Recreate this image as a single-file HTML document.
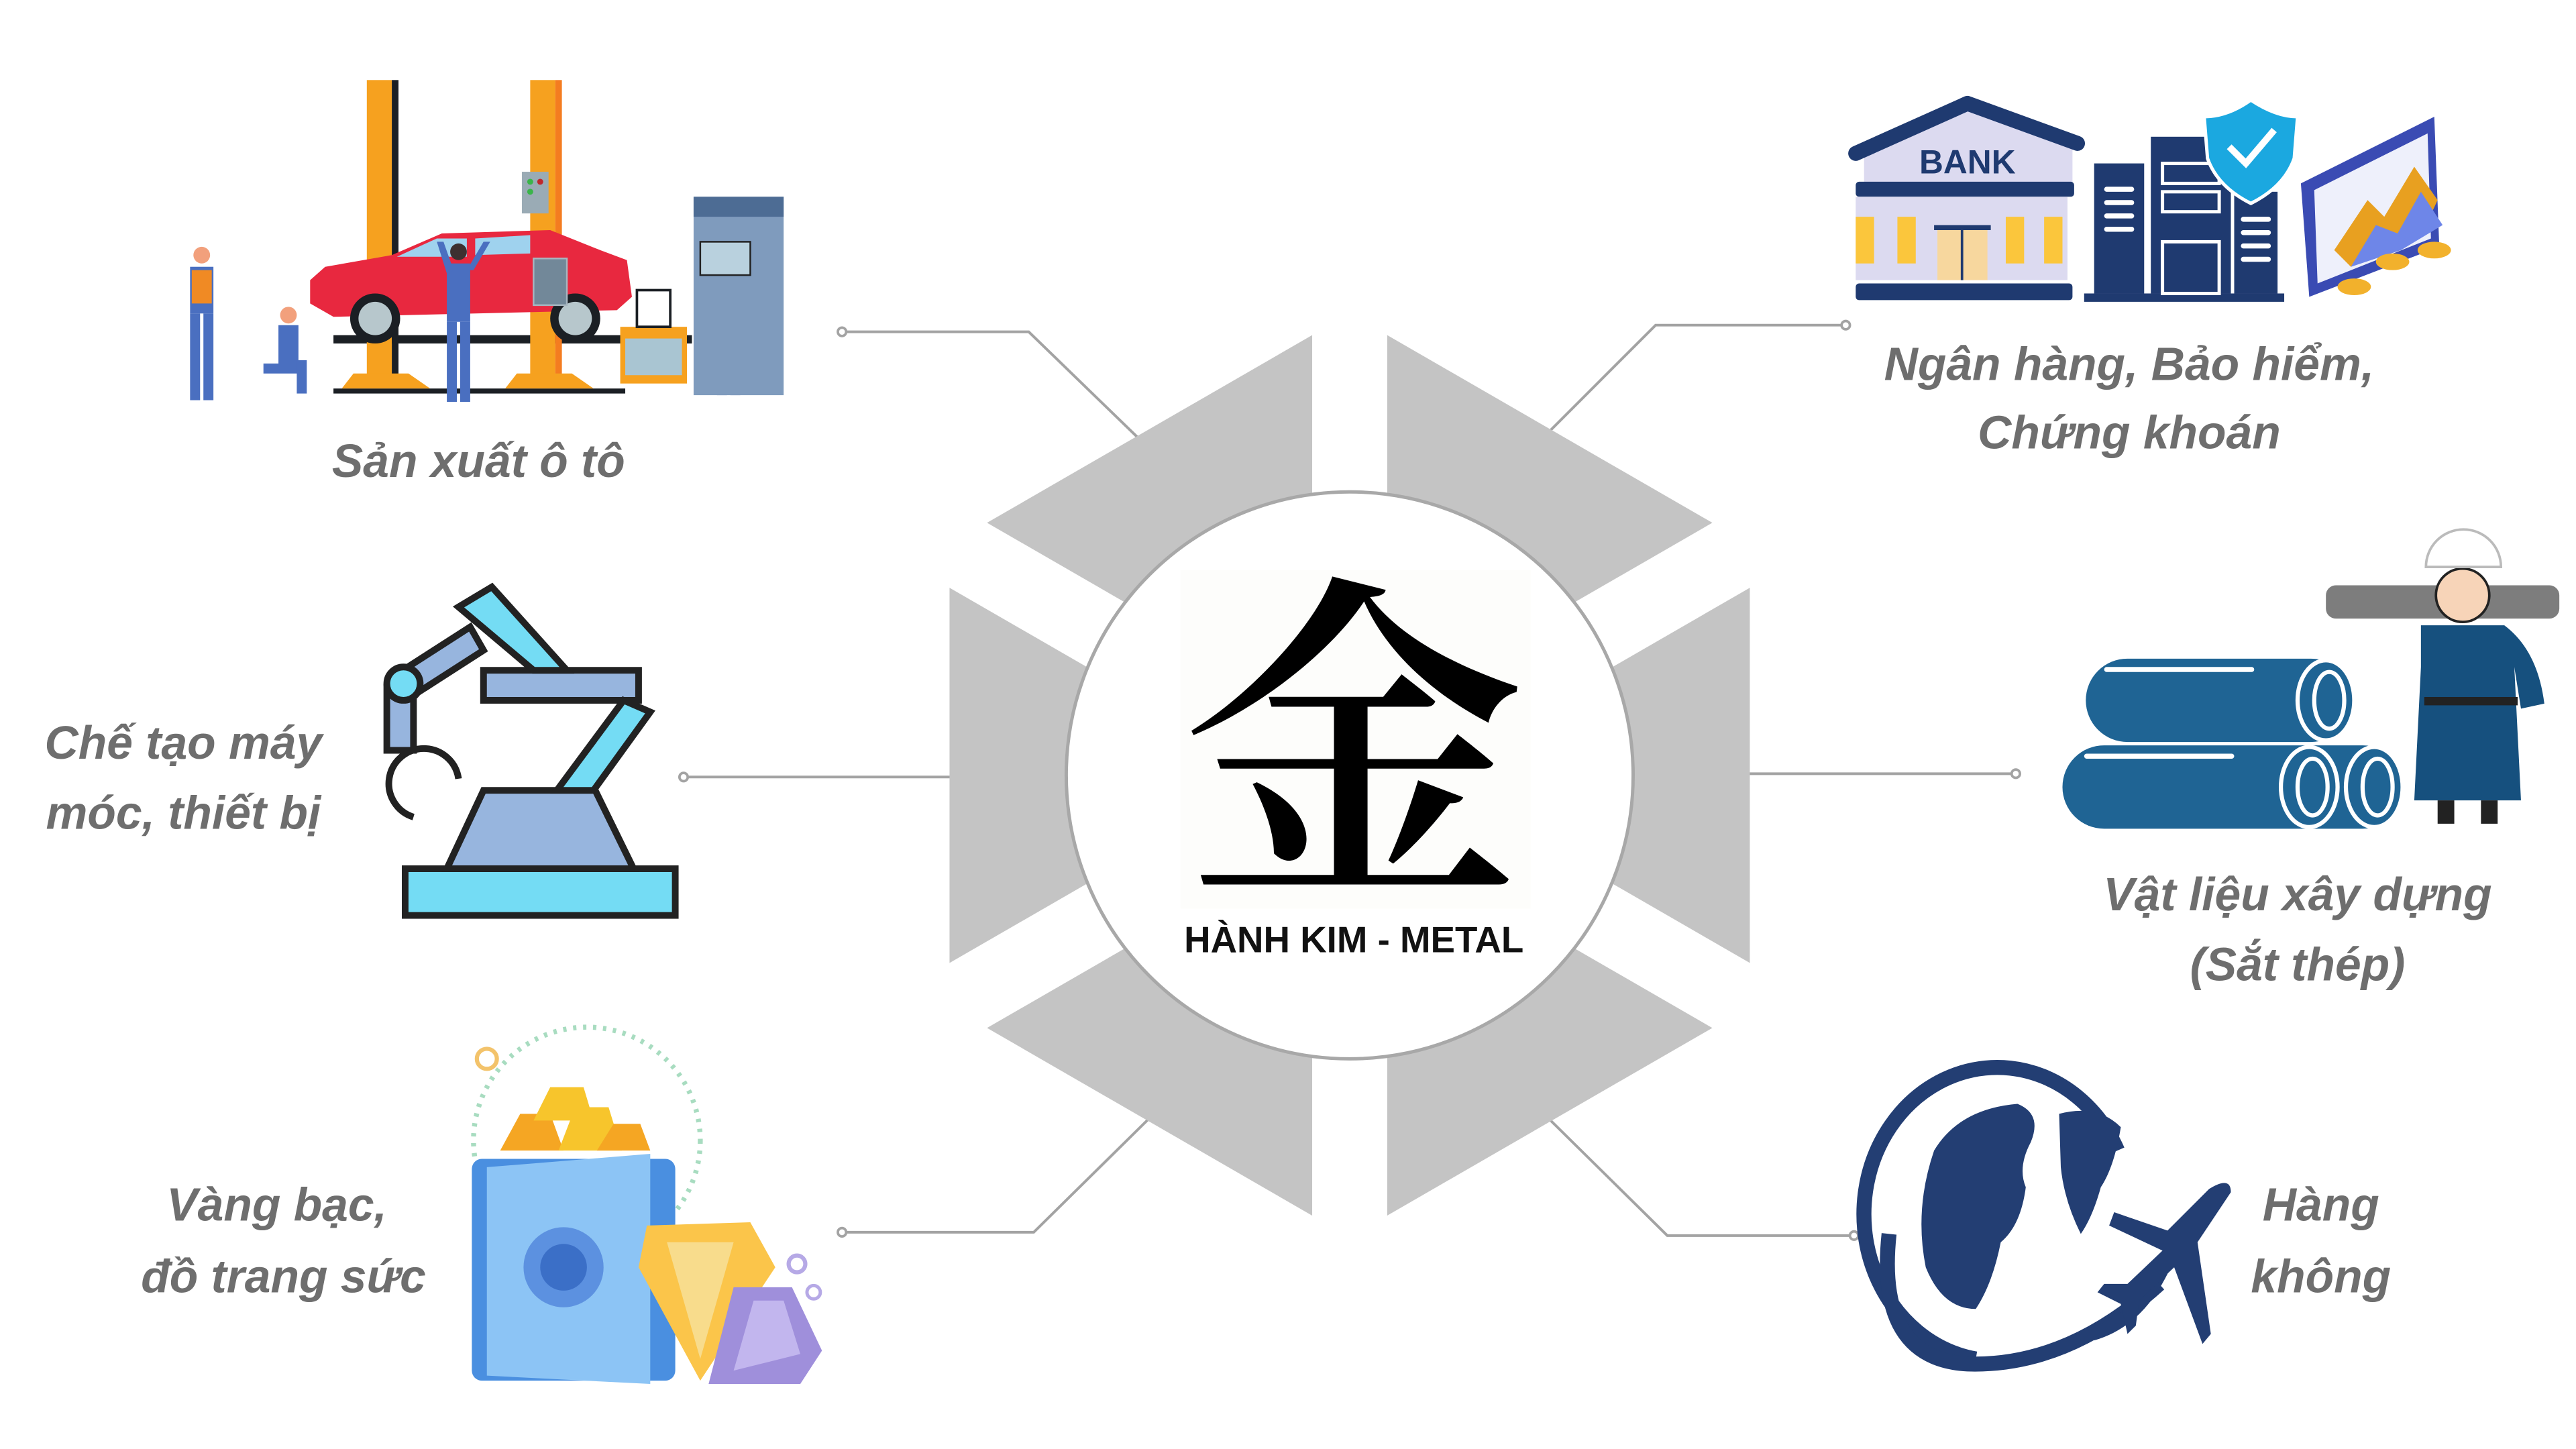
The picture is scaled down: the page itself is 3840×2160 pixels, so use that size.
<!DOCTYPE html>
<html><head><meta charset="utf-8"><style>
html,body{margin:0;padding:0;background:#fff;width:3840px;height:2160px;overflow:hidden}
svg{display:block}
.lb{font-family:"Liberation Sans",sans-serif;font-style:italic;font-weight:bold;font-size:28px;fill:#6e6e6e}
</style></head><body>
<svg width="3840" height="2160" viewBox="0 0 1545 869" preserveAspectRatio="none" xmlns="http://www.w3.org/2000/svg">
<rect width="1545" height="869" fill="#fff"/>
<g stroke="#a3a3a3" stroke-width="1.6" fill="none">
<polyline points="505,199 617,199 682,262"/>
<line x1="410" y1="466" x2="572" y2="466"/>
<polyline points="505,739 620,739 690,670"/>
<polyline points="1107,195 993,195 928,260"/>
<line x1="1047" y1="464" x2="1209" y2="464"/>
<polyline points="1112,741 1000,741 928,670"/>
</g>
<g fill="#fff" stroke="#a3a3a3" stroke-width="1.5">
<circle cx="505" cy="199" r="2.5"/><circle cx="410" cy="466" r="2.5"/><circle cx="505" cy="739" r="2.5"/>
<circle cx="1107" cy="195" r="2.5"/><circle cx="1209" cy="464" r="2.5"/><circle cx="1112" cy="741" r="2.5"/>
</g>
<polygon points="809.5,188 1049.5,326.5 1049.5,603.5 809.5,742 569.5,603.5 569.5,326.5" fill="#c4c4c4"/>
<g stroke="#fff" stroke-width="45">
<line x1="809.5" y1="170" x2="809.5" y2="760"/>
<line x1="540" y1="309.5" x2="1079" y2="620.5"/>
<line x1="540" y1="620.5" x2="1079" y2="309.5"/>
</g>
<circle cx="809.5" cy="465" r="170" fill="#fff" stroke="#a8a8a8" stroke-width="2"/>
<rect x="708" y="342" width="210" height="203" fill="#fdfdfb"/>
<text x="812" y="520" text-anchor="middle" font-family="'Noto Serif CJK SC','Noto Serif CJK JP',serif" font-weight="600" font-size="205" fill="#000">金</text>
<text x="812" y="571" text-anchor="middle" font-family="'Liberation Sans',sans-serif" font-weight="bold" font-size="22" fill="#111">HÀNH KIM - METAL</text>

<text class="lb" x="287" y="286" text-anchor="middle">Sản xuất ô tô</text>
<text class="lb" x="110" y="455" text-anchor="middle">Chế tạo máy</text>
<text class="lb" x="110" y="497" text-anchor="middle">móc, thiết bị</text>
<text class="lb" x="166" y="732" text-anchor="middle">Vàng bạc,</text>
<text class="lb" x="170" y="775" text-anchor="middle">đồ trang sức</text>
<text class="lb" x="1277" y="228" text-anchor="middle">Ngân hàng, Bảo hiểm,</text>
<text class="lb" x="1277" y="269" text-anchor="middle">Chứng khoán</text>
<text class="lb" x="1378" y="546" text-anchor="middle">Vật liệu xây dựng</text>
<text class="lb" x="1378" y="588" text-anchor="middle">(Sắt thép)</text>
<text class="lb" x="1392" y="732" text-anchor="middle">Hàng</text>
<text class="lb" x="1392" y="775" text-anchor="middle">không</text>

<!-- car factory -->
<rect x="200" y="201" width="215" height="5" fill="#1b1f24"/>
<rect x="200" y="233" width="175" height="3" fill="#1b1f24"/>
<rect x="220" y="48" width="15" height="178" fill="#f6a11f"/><rect x="235" y="48" width="4" height="178" fill="#1b1f24"/>
<rect x="318" y="48" width="15" height="178" fill="#f6a11f"/><rect x="333" y="48" width="4" height="178" fill="#f47c20"/>
<polygon points="205,233 212,224 245,224 258,233" fill="#f6a11f"/>
<polygon points="303,233 310,224 343,224 356,233" fill="#f6a11f"/>
<path d="M186,168 L195,160 L235,153 L265,140 L330,138 L360,150 L376,156 L379,178 L370,186 L200,190 L186,182 Z" fill="#e8283f"/>
<path d="M238,154 L262,143 L280,143 L280,154 Z M285,143 L318,141 L318,152 L285,153 Z" fill="#9fd2ee"/>
<circle cx="225" cy="191" r="15" fill="#1b1f24"/><circle cx="225" cy="191" r="10" fill="#b7c7cc"/>
<circle cx="345" cy="191" r="15" fill="#1b1f24"/><circle cx="345" cy="191" r="10" fill="#b7c7cc"/>
<rect x="313" y="103" width="16" height="25" fill="#9aabb5"/>
<circle cx="318" cy="109" r="1.8" fill="#3ab54a"/><circle cx="318" cy="115" r="1.8" fill="#3ab54a"/><circle cx="324" cy="109" r="1.8" fill="#c0272d"/>
<rect x="320" y="155" width="20" height="28" fill="#728899" stroke="#a7b6c0"/>
<g fill="#4a6fc0">
<rect x="114" y="160" width="14" height="28"/><rect x="114" y="188" width="6" height="52"/><rect x="122" y="188" width="6" height="52"/>
<rect x="167" y="195" width="12" height="25"/><rect x="158" y="218" width="24" height="6"/><rect x="178" y="216" width="6" height="20"/>
<rect x="268" y="158" width="14" height="35"/><rect x="268" y="193" width="6" height="48"/><rect x="276" y="193" width="6" height="48"/>
<polygon points="262,145 266,145 272,162 268,164"/><polygon points="290,145 294,145 284,162 280,162"/>
<rect x="430" y="185" width="6" height="52"/><rect x="438" y="185" width="6" height="52"/>
</g>
<rect x="115" y="162" width="12" height="20" fill="#f08a24"/>
<rect x="428" y="157" width="18" height="30" fill="#e97d22"/>
<circle cx="121" cy="153" r="5" fill="#f2a07c"/><circle cx="173" cy="189" r="5" fill="#f2a07c"/><circle cx="275" cy="151" r="5" fill="#3d3030"/><circle cx="437" cy="150" r="5" fill="#3d3030"/>
<rect x="416" y="118" width="54" height="119" fill="#7f9bbd"/>
<rect x="416" y="118" width="54" height="12" fill="#4d6c94"/>
<rect x="420" y="145" width="30" height="20" fill="#b9d1de" stroke="#222" stroke-width="1"/>
<rect x="372" y="196" width="40" height="34" fill="#f6a11f"/>
<rect x="375" y="203" width="34" height="22" fill="#a9c5d2"/>
<rect x="382" y="174" width="20" height="22" fill="none" stroke="#1b1f24" stroke-width="1.5"/>

<!-- robot arm -->
<g stroke="#222" stroke-width="4" stroke-linejoin="miter">
<rect x="243" y="521" width="162" height="28" fill="#74dcf4"/>
<polygon points="268,521 290,474 357,474 380,521" fill="#97b5de"/>
<rect x="290" y="402" width="93" height="18" fill="#97b5de"/>
<polygon points="334,474 374,420 390,427 356,474" fill="#74dcf4"/>
<polygon points="275,364 295,352 340,402 320,402" fill="#74dcf4"/>
<polygon points="240,403 282,376 290,390 248,417" fill="#97b5de"/>
<rect x="232" y="412" width="16" height="38" fill="#97b5de"/>
<circle cx="242" cy="410" r="10" fill="#74dcf4"/>
<path d="M275,467 A21,21 0 1,0 248,490" fill="none"/>
</g>

<!-- gold / safe -->
<circle cx="352" cy="684" r="68" fill="none" stroke="#a8dcc0" stroke-width="3" stroke-dasharray="2 4"/>
<circle cx="292" cy="635" r="6" fill="none" stroke="#f3c36b" stroke-width="2.5"/>
<circle cx="478" cy="758" r="5" fill="none" stroke="#b6a9e6" stroke-width="2.5"/>
<circle cx="488" cy="775" r="4" fill="none" stroke="#b6a9e6" stroke-width="2"/>
<polygon points="300,690 312,668 330,668 338,690" fill="#f5a623"/>
<polygon points="335,690 345,664 365,664 373,690" fill="#f7c52c"/>
<polygon points="320,672 330,652 350,652 356,672" fill="#f7c52c"/>
<polygon points="358,690 368,674 384,674 390,690" fill="#f5a623"/>
<rect x="283" y="695" width="122" height="133" rx="6" fill="#4a8fe0"/>
<polygon points="292,700 390,692 390,830 292,825" fill="#8cc4f5"/>
<circle cx="338" cy="760" r="24" fill="#5c91e0"/>
<circle cx="338" cy="760" r="14" fill="#3b6fc7"/>
<polygon points="388,735 450,733 465,760 420,828 383,760" fill="#fbc54a"/>
<polygon points="400,745 440,745 420,815" fill="#f8dc8c"/>
<polygon points="440,772 475,772 493,810 480,830 425,830" fill="#9f8fdb"/>
<polygon points="452,780 470,780 480,812 440,822" fill="#c2b6ee"/>

<!-- bank -->
<polygon points="1118,88 1180,62 1243,85 1243,110 1118,110" fill="#dcdaf0"/>
<path d="M1113,92 L1180,62 L1246,86" fill="none" stroke="#1f3a70" stroke-width="9" stroke-linejoin="round" stroke-linecap="round"/>
<text x="1180" y="104" text-anchor="middle" font-family="'Liberation Sans',sans-serif" font-weight="bold" font-size="20" fill="#1f3a70">BANK</text>
<rect x="1113" y="109" width="131" height="9" rx="2" fill="#1f3a70"/>
<rect x="1113" y="118" width="127" height="50" fill="#dcdaf0"/>
<rect x="1113" y="130" width="11" height="28" fill="#fbc63c"/><rect x="1138" y="130" width="11" height="28" fill="#fbc63c"/>
<rect x="1203" y="130" width="11" height="28" fill="#fbc63c"/><rect x="1226" y="130" width="11" height="28" fill="#fbc63c"/>
<rect x="1162" y="138" width="30" height="30" fill="#f7d79e"/><rect x="1160" y="135" width="34" height="3" fill="#1f3a70"/><rect x="1176" y="138" width="1.5" height="30" fill="#1f3a70"/>
<rect x="1113" y="170" width="130" height="10" rx="2" fill="#1f3a70"/>
<rect x="1256" y="98" width="30" height="78" fill="#1f3a70"/>
<rect x="1290" y="82" width="48" height="94" fill="#1f3a70"/>
<rect x="1340" y="115" width="26" height="61" fill="#1f3a70"/>
<rect x="1250" y="176" width="120" height="5" fill="#1f3a70"/>
<g fill="#fff"><rect x="1262" y="112" width="18" height="3" rx="1.5"/><rect x="1262" y="120" width="18" height="3" rx="1.5"/><rect x="1262" y="128" width="18" height="3" rx="1.5"/><rect x="1262" y="136" width="18" height="3" rx="1.5"/>
<rect x="1344" y="130" width="18" height="3" rx="1.5"/><rect x="1344" y="138" width="18" height="3" rx="1.5"/><rect x="1344" y="146" width="18" height="3" rx="1.5"/><rect x="1344" y="154" width="18" height="3" rx="1.5"/></g>
<rect x="1297" y="98" width="34" height="12" fill="none" stroke="#fff" stroke-width="2"/>
<rect x="1297" y="115" width="34" height="12" fill="none" stroke="#fff" stroke-width="2"/>
<rect x="1297" y="145" width="34" height="31" fill="none" stroke="#fff" stroke-width="2"/>
<path d="M1350,60 Q1365,70 1378,70 L1376,95 Q1370,112 1350,122 Q1330,112 1324,95 L1322,70 Q1336,70 1350,60 Z" fill="#1ba8e0" stroke="#fff" stroke-width="2"/>
<path d="M1337,88 L1347,98 L1364,78" fill="none" stroke="#fff" stroke-width="4"/>
<polygon points="1380,110 1460,70 1463,148 1385,178" fill="#3a4bb3"/>
<polygon points="1388,114 1456,80 1458,143 1390,170" fill="#eef0fb"/>
<polygon points="1400,150 1420,120 1430,130 1448,100 1462,120 1455,135 1410,160" fill="#e8a020"/>
<polygon points="1410,160 1425,135 1438,140 1452,115 1465,135 1440,150" fill="#6e86e8"/>
<ellipse cx="1412" cy="172" rx="10" ry="5" fill="#f2b12c"/><ellipse cx="1435" cy="157" rx="10" ry="5" fill="#f2b12c"/><ellipse cx="1460" cy="150" rx="10" ry="5" fill="#f2b12c"/>

<!-- pipes & worker -->
<rect x="1251" y="395" width="160" height="50" rx="25" fill="#1f6494"/>
<ellipse cx="1395" cy="420" rx="17" ry="24" fill="#1f6494" stroke="#fff" stroke-width="2.5"/>
<ellipse cx="1397" cy="420" rx="9" ry="17" fill="none" stroke="#fff" stroke-width="2.5"/>
<rect x="1237" y="447" width="205" height="50" rx="25" fill="#1f6494"/>
<ellipse cx="1385" cy="472" rx="17" ry="24" fill="#1f6494" stroke="#fff" stroke-width="2.5"/>
<ellipse cx="1424" cy="472" rx="17" ry="24" fill="#1f6494" stroke="#fff" stroke-width="2.5"/>
<ellipse cx="1387" cy="472" rx="9" ry="17" fill="none" stroke="#fff" stroke-width="2.5"/>
<ellipse cx="1426" cy="472" rx="9" ry="17" fill="none" stroke="#fff" stroke-width="2.5"/>
<rect x="1262" y="400" width="90" height="3" rx="1.5" fill="#fff"/>
<rect x="1250" y="452" width="90" height="3" rx="1.5" fill="#fff"/>
<rect x="1395" y="351" width="140" height="20" rx="6" fill="#7d7d7d"/>
<path d="M1452,375 L1502,375 Q1522,390 1526,422 L1512,425 L1508,400 L1512,480 L1448,480 L1452,400 Z" fill="#16507e"/>
<rect x="1454" y="418" width="56" height="5" fill="#222"/>
<rect x="1462" y="480" width="10" height="14" fill="#222"/><rect x="1488" y="480" width="10" height="14" fill="#222"/>
<circle cx="1477" cy="357" r="16" fill="#f7d4b8" stroke="#222" stroke-width="1.5"/>
<path d="M1455,340 A22,22 0 0,1 1500,340 Z" fill="#fff" stroke="#bbb" stroke-width="1.5"/>

<!-- globe & plane -->
<path d="M1185,815 A80,88 0 1,1 1270,690" fill="none" stroke="#233e73" stroke-width="9" transform="rotate(0)"/>
<path d="M1133,740 Q1125,815 1180,818 Q1240,820 1295,770" fill="none" stroke="#233e73" stroke-width="9"/>
<path d="M1255,800 Q1290,790 1305,740" fill="none" stroke="#233e73" stroke-width="8"/>
<path d="M1160,690 Q1175,665 1210,662 Q1225,668 1218,685 Q1210,700 1215,712 Q1212,735 1200,745 Q1195,770 1185,785 Q1165,785 1155,760 Q1148,725 1160,690 Z" fill="#233e73"/>
<path d="M1235,668 Q1258,662 1272,676 Q1268,700 1260,712 Q1255,730 1248,740 Q1238,720 1236,700 Z" fill="#233e73"/>
<path d="M1268,727 L1300,738 L1325,713 Q1338,705 1338,715 L1318,745 L1326,800 L1321,806 L1304,760 L1283,780 L1281,795 L1276,800 L1272,782 L1258,775 L1262,770 L1276,770 L1297,750 L1265,735 Z" fill="#233e73"/>
</svg>
</body></html>
